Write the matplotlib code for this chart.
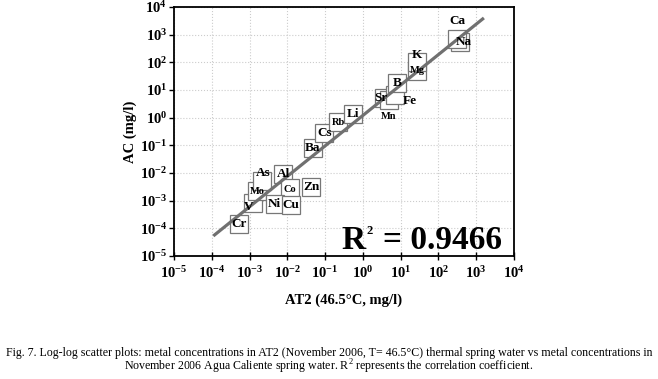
import numpy as np
import matplotlib.pyplot as plt
from matplotlib.ticker import FuncFormatter

plt.rcParams['font.family'] = ['Liberation Serif', 'DejaVu Serif']
plt.rcParams['mathtext.fontset'] = 'custom'
plt.rcParams['mathtext.rm'] = 'Liberation Serif'
plt.rcParams['mathtext.bf'] = 'Liberation Serif:bold'

# element concentrations (mg/l)
elements = ["Cr", "V", "Mo", "As", "Al", "Co", "Ni", "Cu", "Zn", "Ba", "Cs", "Rb",
            "Li", "Sr", "Mn", "Fe", "B", "Mg", "K", "Na", "Ca"]
at2 = [5.4e-4, 1.26e-3, 1.6e-3, 2.1e-3, 7.8e-3, 1.2e-2, 4.6e-3, 1.26e-2, 4.3e-2,
       4.7e-2, 9.5e-2, 0.22, 0.56, 3.6, 4.9, 7.1, 7.9, 27, 27, 370, 310]
ac = [1.45e-4, 8.3e-4, 2.2e-3, 5.1e-3, 9.1e-3, 2.9e-3, 7.6e-4, 6.9e-4, 3.1e-3,
      8.3e-2, 0.28, 0.69, 1.35, 5.1, 4.4, 6.6, 17.8, 49, 102, 550, 690]

# label offset from the marker (points) and font size
label_off = {"Cr": (0, 0), "V": (-3, -3), "Mo": (0, 0), "As": (1, 6), "Al": (0, 0),
             "Co": (0, -1), "Ni": (0, 0), "Cu": (0, 0), "Zn": (0, 0), "Ba": (0, 0),
             "Cs": (0, 0), "Rb": (0, 0), "Li": (0, 0), "Sr": (-2, 0), "Mn": (0, -12),
             "Fe": (11, -4), "B": (0, 0), "Mg": (0, 0), "K": (0, 5), "Na": (3, 0), "Ca": (0, 13)}
small = ["Mo", "Rb", "Mn", "Mg", "Co"]

# fitted line (log10 y = slope * log10 x + intercept)
fit_slope = 1.10
fit_intercept = 0.08
fit_xrange = [1.1e-4, 1.6e3]
r2 = 0.9466

fig = plt.figure(figsize=(6.58, 3.79), dpi=100)
ax = fig.add_axes([0.2644, 0.3245, 0.5167, 0.657])

ax.set_xscale('log')
ax.set_yscale('log')
ax.set_xlim(1e-5, 1e4)
ax.set_ylim(1e-5, 1e4)

ax.grid(True, which='major', color='#cccccc', linestyle=':', linewidth=0.8)
ax.set_axisbelow(True)

fx = np.array(fit_xrange)
fy = 10 ** (fit_slope * np.log10(fx) + fit_intercept)
ax.plot(fx, fy, color='#707070', linewidth=2.3, zorder=4, solid_capstyle='butt')

for name, x, y in zip(elements, at2, ac):
    ax.plot(x, y, marker='s', markersize=13.5, markerfacecolor='white',
            markeredgecolor='#777777', markeredgewidth=0.9, linestyle='none', zorder=3)
    dx, dy = label_off[name]
    ax.annotate(name, (x, y), xytext=(dx, dy), textcoords='offset points',
                ha='center', va='center', fontsize=7.5 if name in small else 9.5,
                fontweight='bold', zorder=5)

# R^2 annotation: small raised "2" drawn as its own text
ax.text(0.965, 0.03, f'= {r2:.4f}', transform=ax.transAxes,
        ha='right', va='baseline', fontsize=24, fontweight='bold', zorder=6)
ax.annotate('R', (0.965, 0.03), xycoords='axes fraction', xytext=(-98, 0),
            textcoords='offset points', ha='right', va='baseline',
            fontsize=24, fontweight='bold', zorder=6)
ax.annotate('2', (0.965, 0.03), xycoords='axes fraction', xytext=(-97.5, 10.5),
            textcoords='offset points', ha='left', va='baseline',
            fontsize=9, fontweight='bold', zorder=6)

ax.set_xticks([10.0 ** k for k in range(-5, 5)])
ax.set_yticks([10.0 ** k for k in range(-5, 5)])
fmt = FuncFormatter(lambda v, pos: r'$\mathbf{10^{%d}}$' % round(np.log10(v)))
ax.xaxis.set_major_formatter(fmt)
ax.yaxis.set_major_formatter(fmt)
ax.tick_params(axis='both', which='both', labelsize=10.5)
ax.tick_params(axis='x', which='major', direction='inout', length=6, width=1)
ax.tick_params(axis='x', which='minor', direction='in', length=2.5, width=0.7)
ax.tick_params(axis='y', which='major', direction='out', length=3.5, width=1, pad=1.5)
ax.tick_params(axis='y', which='minor', direction='out', length=2, width=0.7)
for sp in ax.spines.values():
    sp.set_linewidth(1.3)

ax.set_xlabel('AT2 (46.5°C, mg/l)', fontsize=10.5, fontweight='bold', labelpad=9)
ax.set_ylabel('AC (mg/l)', fontsize=10.5, fontweight='bold', labelpad=2)

fig.text(0.5, 0.068, 'Fig. 7. Log-log scatter plots: metal concentrations in AT2 (November 2006, T= 46.5°C) '
         'thermal spring water vs metal concentrations in', ha='center', va='center', fontsize=8.6)
fig.text(0.5, 0.032, 'November 2006 Agua Caliente spring water. R$^2$ represents the correlation coefficient.',
         ha='center', va='center', fontsize=8.6)

fig.savefig('out.png', dpi=100)
